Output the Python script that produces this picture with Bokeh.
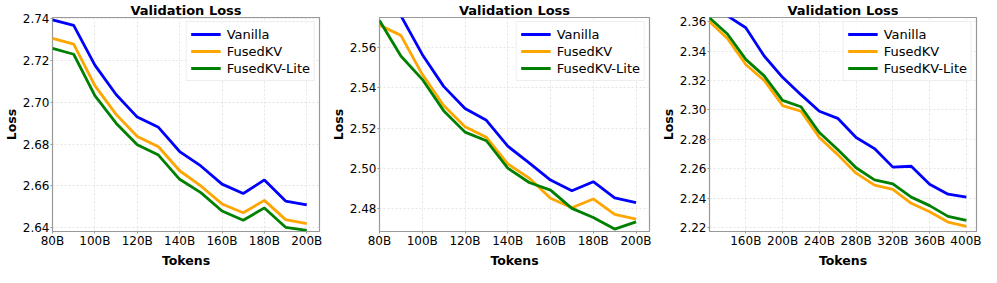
from bokeh.plotting import figure
from bokeh.layouts import row
from bokeh.models import Range1d, FixedTicker, Legend, LegendItem, Title
from bokeh.embed import file_html
from bokeh.resources import INLINE

# ---------------- data ----------------
x1 = [80, 90, 100, 110, 120, 130, 140, 150, 160, 170, 180, 190, 200]
p1_vanilla = [2.7395, 2.7368, 2.7178, 2.7037, 2.6929, 2.6880, 2.6764, 2.6695, 2.6608, 2.6563, 2.6628, 2.6527, 2.6508]
p1_fused = [2.7306, 2.7278, 2.7080, 2.6942, 2.6836, 2.6787, 2.6672, 2.6599, 2.6513, 2.6471, 2.6530, 2.6438, 2.6419]
p1_lite = [2.7258, 2.7230, 2.7032, 2.6900, 2.6797, 2.6747, 2.6631, 2.6567, 2.6479, 2.6435, 2.6494, 2.6401, 2.6386]

x2 = [80, 90, 100, 110, 120, 130, 140, 150, 160, 170, 180, 190, 200]
p2_vanilla = [2.5900, 2.5760, 2.5567, 2.5408, 2.5298, 2.5239, 2.5110, 2.5027, 2.4941, 2.4888, 2.4933, 2.4853, 2.4829]
p2_fused = [2.5713, 2.5662, 2.5468, 2.5313, 2.5207, 2.5154, 2.5022, 2.4951, 2.4851, 2.4803, 2.4847, 2.4770, 2.4747]
p2_lite = [2.5736, 2.5559, 2.5443, 2.5287, 2.5180, 2.5137, 2.5001, 2.4929, 2.4891, 2.4800, 2.4755, 2.4697, 2.4733]

x3 = [120, 140, 160, 180, 200, 220, 240, 260, 280, 300, 320, 340, 360, 380, 400]
p3_vanilla = [2.3750, 2.3640, 2.3559, 2.3367, 2.3222, 2.3104, 2.2991, 2.2943, 2.2813, 2.2737, 2.2611, 2.2617, 2.2495, 2.2427, 2.2407]
p3_fused = [2.3604, 2.3486, 2.3309, 2.3201, 2.3030, 2.2991, 2.2813, 2.2696, 2.2570, 2.2489, 2.2460, 2.2365, 2.2307, 2.2237, 2.2208]
p3_lite = [2.3629, 2.3517, 2.3344, 2.3232, 2.3065, 2.3022, 2.2846, 2.2731, 2.2607, 2.2524, 2.2497, 2.2407, 2.2349, 2.2276, 2.2248]

series_names = ["Vanilla", "FusedKV", "FusedKV-Lite"]
series_colors = ["#0000ff", "#ffa500", "#008000"]

x1_ticks = [80, 100, 120, 140, 160, 180, 200]
x2_ticks = [80, 100, 120, 140, 160, 180, 200]
x3_ticks = [160, 200, 240, 280, 320, 360, 400]
y1_ticks = [2.64, 2.66, 2.68, 2.70, 2.72, 2.74]
y2_ticks = [2.48, 2.50, 2.52, 2.54, 2.56]
y3_ticks = [2.22, 2.24, 2.26, 2.28, 2.30, 2.32, 2.34, 2.36]

FONT = "DejaVu Sans"


def make_panel(xs, ys_list, xr, yr, xt, yt, width, bl, br):
    p = figure(width=width, height=267, output_backend="svg", toolbar_location=None,
               x_range=Range1d(*xr), y_range=Range1d(*yr),
               min_border_left=bl, min_border_right=br, min_border_top=2, min_border_bottom=0)
    p.title.text = "Validation Loss"
    p.title.align = "center"
    p.title.text_font = FONT
    p.title.text_font_size = "13px"
    p.title.text_font_style = "bold"
    p.title.text_color = "black"
    p.title.standoff = 0
    p.title.offset = 0

    items = []
    for ys, name, col in zip(ys_list, series_names, series_colors):
        r = p.line(xs, ys, line_color=col, line_width=2.8)
        items.append(LegendItem(label=name, renderers=[r]))

    leg = Legend(items=items, location="top_right")
    leg.label_text_font = FONT
    leg.label_text_font_size = "13px"
    leg.label_text_color = "black"
    leg.label_height = 16
    leg.glyph_height = 16
    leg.glyph_width = 30
    leg.label_standoff = 6
    leg.spacing = 1
    leg.padding = 4
    leg.margin = 4
    leg.border_line_color = "#dddddd"
    leg.border_line_width = 1
    leg.background_fill_alpha = 0.85
    p.add_layout(leg)

    p.xaxis.ticker = FixedTicker(ticks=xt)
    p.xaxis.major_label_overrides = {t: f"{t}B" for t in xt}
    p.yaxis.ticker = FixedTicker(ticks=yt)
    p.yaxis.major_label_overrides = {t: f"{t:.2f}" for t in yt}

    p.yaxis.axis_label = "Loss"
    for ax in (p.xaxis, p.yaxis):
        ax.axis_label_text_font = FONT
        ax.axis_label_text_font_size = "12.5px"
        ax.axis_label_text_font_style = "bold"
        ax.axis_label_text_color = "black"
        ax.major_label_text_font = FONT
        ax.major_label_text_font_size = "12px"
        ax.major_label_text_color = "black"
        ax.axis_line_color = None
        ax.major_tick_line_color = "#999999"
        ax.major_tick_out = 2
        ax.major_tick_in = 0
        ax.minor_tick_line_color = None
        ax.major_label_standoff = 1
    p.xaxis.major_label_standoff = 0
    p.yaxis.axis_label_standoff = 1

    # x-axis title as a centred title panel under the axis
    xt_title = Title(text="Tokens", align="center", text_font=FONT, text_font_size="12.5px",
                     text_font_style="bold", text_color="black", standoff=0, offset=0,
                     text_line_height=1.0)
    p.add_layout(xt_title, "below")

    p.outline_line_color = "#999999"
    p.outline_line_width = 1.2
    p.grid.grid_line_color = "#dddddd"
    p.grid.grid_line_dash = "2 2"
    p.grid.grid_line_width = 0.8
    p.background_fill_color = "white"
    p.border_fill_color = "white"
    return p


f1 = make_panel(x1, [p1_vanilla, p1_fused, p1_lite], (80, 206), (2.6381, 2.7406),
                x1_ticks, y1_ticks, 327, 43, 8)
f2 = make_panel(x2, [p2_vanilla, p2_fused, p2_lite], (80, 206.3), (2.4685, 2.5751),
                x2_ticks, y2_ticks, 330, 43, 8)
f3 = make_panel(x3, [p3_vanilla, p3_fused, p3_lite], (120.5, 411), (2.2173, 2.3629),
                x3_ticks, y3_ticks, 324, 43, 5)

layout = row(f1, f2, f3, spacing=0)
open("out.html", "w").write(file_html(layout, INLINE))
